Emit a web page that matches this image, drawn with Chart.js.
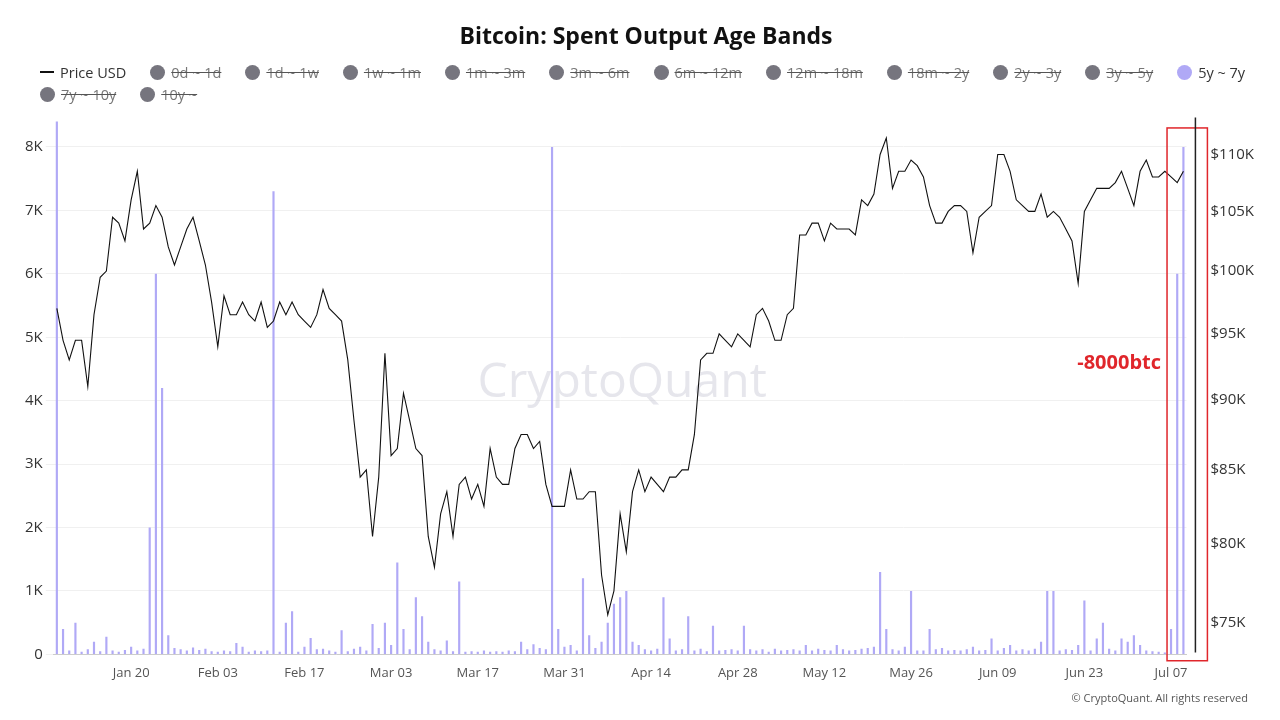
<!DOCTYPE html>
<html>
<head>
<meta charset="utf-8">
<script src="https://cdn.jsdelivr.net/npm/chart.js@4"></script>
<style>
  body { margin: 0; background: #fff; font-family: "Open Sans", sans-serif; }
  #wrap { position: relative; width: 1280px; height: 720px; }
  #copy { position: absolute; right: 32px; top: 690px; font-size: 11px; color: #555; }
  #legend { position: absolute; left: 40px; top: 61px; font-size: 14.5px; color: #333; }
  .row { display: flex; gap: 24px; height: 22px; align-items: center; white-space: nowrap; }
  .item { display: flex; align-items: center; gap: 6px; }
  .dot { width: 15px; height: 15px; border-radius: 50%; }
  .dash { width: 14px; height: 1.5px; background: #111; }
  .off { color: #777; text-decoration: line-through; text-decoration-color: #555; }
</style>
</head>
<body>
<div id="wrap">
  <canvas id="bandChart" width="1280" height="720"></canvas>
  <div id="legend"></div>
  <div id="copy">© CryptoQuant. All rights reserved</div>
</div>
<script>
// daily values, Jan 08 -> Jul 09 2025
const priceJan = [97.0,94.5,93.0,94.5,94.5,91.0,96.5,99.5,100.0,104.5,104.0,102.5,106.0,108.5,103.5,104.0,105.5,104.5,102.0,100.5,102.0,103.5,104.5,102.5];
const priceFeb = [100.5,97.5,94.0,98.0,96.5,96.5,97.5,96.5,96.0,97.5,95.5,96.0,97.5,96.5,97.5,96.5,96.0,95.5,96.5,98.5,97.0,96.5,96.0,93.0,88.5,84.5,85.0,80.5];
const priceMar = [84.5,93.5,86.0,86.5,90.5,88.5,86.5,86.0,80.5,78.5,82.0,83.5,80.5,84.0,84.5,83.0,84.0,82.5,86.5,84.5,84.0,84.0,86.5,87.5,87.5,86.5,87.0,84.0,82.5,82.5,82.5];
const priceApr = [85.0,83.0,83.0,83.5,83.5,78.0,75.5,77.0,82.0,79.5,83.5,85.0,83.5,84.5,84.0,83.5,84.5,84.5,85.0,85.0,87.5,93.0,93.5,93.5,95.0,94.5,94.0,95.0,94.5,94.0];
const priceMay = [96.5,97.0,96.0,94.5,94.5,96.5,97.0,103.0,103.0,104.0,104.0,102.5,104.0,103.5,103.5,103.5,103.0,106.0,105.5,106.5,110.0,111.5,107.0,108.5,108.5,109.5,109.0,108.0,105.5,104.0,104.0];
const priceJun = [105.0,105.5,105.5,105.0,101.5,104.5,105.0,105.5,110.0,110.0,108.5,106.0,105.5,105.0,105.0,106.5,104.5,105.0,104.5,103.5,102.5,99.0,105.0,106.0,107.0,107.0,107.0,107.5,108.5,107.0];
const priceJul = [105.5,108.5,109.5,108.0,108.0,108.5,108.0,107.5,108.5];

const band5y7yJan = [9000,400,60,500,40,80,200,50,280,60,40,70,120,60,90,2000,6000,4200,300,100,80,60,110,70];
const band5y7yFeb = [90,50,40,60,50,180,120,40,60,50,60,7300,40,500,680,40,120,260,80,90,60,40,380,50,90,120,60,480];
const band5y7yMar = [100,500,150,1450,400,80,900,600,200,80,60,220,50,1150,40,50,40,60,40,50,40,60,50,200,80,160,100,80,8000,400,120];
const band5y7yApr = [150,60,1200,300,100,200,500,800,900,1000,200,150,80,60,90,900,250,60,80,600,60,90,50,450,60,70,80,60,450,80];
const band5y7yMay = [60,80,40,90,60,70,80,60,150,60,90,70,60,150,80,60,70,90,100,120,1300,400,80,60,120,1000,60,60,400,80,100];
const band5y7yJun = [60,70,60,80,120,60,70,250,60,100,150,60,80,60,90,200,1000,1000,60,80,70,150,850,60,250,500,90,60,250,200];
const band5y7yJul = [300,150,60,50,40,30,400,6000,8000];

const hiddenBands = ["0d ~ 1d","1d ~ 1w","1w ~ 1m","1m ~ 3m","3m ~ 6m","6m ~ 12m","12m ~ 18m","18m ~ 2y","2y ~ 3y","3y ~ 5y"];
const hiddenBandsAfter = ["7y ~ 10y","10y ~"];
const priceTicks = [75000,80000,85000,90000,95000,100000,105000,110000];

const priceUsd = [].concat(priceJan,priceFeb,priceMar,priceApr,priceMay,priceJun,priceJul).map(v => v * 1000);
const band5y7y = [].concat(band5y7yJan,band5y7yFeb,band5y7yMar,band5y7yApr,band5y7yMay,band5y7yJun,band5y7yJul);

// build date labels
const months = ["Jan","Feb","Mar","Apr","May","Jun","Jul"];
const labels = [];
const start = new Date(2025, 0, 8);
for (let i = 0; i < priceUsd.length; i++) {
  const d = new Date(start.getTime() + i * 86400000);
  labels.push(months[d.getMonth()] + " " + String(d.getDate()).padStart(2, "0"));
}

const grey = "#76757e";
const purple = "#b0a9f6";
const datasets = [
  { type: "line", label: "Price USD", data: priceUsd, yAxisID: "y1", borderColor: "#111", borderWidth: 1.1,
    pointRadius: 0, tension: 0, order: 0 }
];
hiddenBands.forEach(b => datasets.push({ type: "bar", label: b, data: [], hidden: true, backgroundColor: grey, yAxisID: "y", order: 1 }));
datasets.push({ type: "bar", label: "5y ~ 7y", data: band5y7y, yAxisID: "y", backgroundColor: purple,
  barPercentage: 0.35, categoryPercentage: 1, order: 1 });
hiddenBandsAfter.forEach(b => datasets.push({ type: "bar", label: b, data: [], hidden: true, backgroundColor: grey, yAxisID: "y", order: 1 }));

// html legend, two rows like the source
const legendEl = document.querySelector("#legend");
function legendItem(ds) {
  const mark = ds.type === "line" ? '<span class="dash"></span>'
    : '<span class="dot" style="background:' + ds.backgroundColor + '"></span>';
  return '<span class="item">' + mark + '<span class="' + (ds.hidden ? "off" : "") + '">' + ds.label + '</span></span>';
}
const firstRow = datasets.filter(ds => !hiddenBandsAfter.includes(ds.label));
const secondRow = datasets.filter(ds => hiddenBandsAfter.includes(ds.label));
legendEl.innerHTML = '<div class="row">' + firstRow.map(legendItem).join("") + '</div>' +
  '<div class="row">' + secondRow.map(legendItem).join("") + '</div>';

// red box, note and black marker line near the end
const markPlugin = {
  id: "mark",
  afterDatasetsDraw(chart) {
    const { ctx, scales, chartArea } = chart;
    const x1 = scales.x.getPixelForValue(labels.length - 3);
    const x2 = scales.x.getPixelForValue(labels.length - 1);
    ctx.save();
    ctx.strokeStyle = "#e0262b";
    ctx.lineWidth = 1.5;
    ctx.strokeRect(x1 - 4, scales.y.getPixelForValue(8300), x2 - x1 + 28, scales.y.getPixelForValue(-100) - scales.y.getPixelForValue(8300));
    ctx.strokeStyle = "#222";
    ctx.beginPath();
    ctx.moveTo(x2 + 12, chartArea.top - 4);
    ctx.lineTo(x2 + 12, chartArea.bottom - 2);
    ctx.stroke();
    ctx.fillStyle = "#e0262b";
    ctx.font = "bold 20px 'Open Sans'";
    ctx.textAlign = "right";
    ctx.fillText("-8000btc", x1 - 10, scales.y.getPixelForValue(4500));
    ctx.restore();
  },
  beforeDatasetsDraw(chart) {
    const { ctx, chartArea } = chart;
    ctx.save();
    ctx.fillStyle = "rgba(200,200,212,0.45)";
    ctx.font = "48px 'Open Sans'";
    ctx.textAlign = "center";
    ctx.textBaseline = "middle";
    ctx.fillText("CryptoQuant", (chartArea.left + chartArea.right) / 2 + 2, 383);
    ctx.restore();
  }
};

new Chart(document.querySelector("#bandChart"), {
  data: { labels: labels, datasets: datasets },
  plugins: [markPlugin],
  options: {
    responsive: false,
    animation: false,
    layout: { padding: { left: 22, right: 10, top: 10, bottom: 36 } },
    plugins: {
      title: { display: true, text: "Bitcoin: Spent Output Age Bands", color: "#111",
        font: { family: "Open Sans", size: 23, weight: "bold" }, padding: { top: 14, bottom: 70 } },
      legend: { display: false },
      tooltip: { enabled: false }
    },
    scales: {
      x: {
        grid: { display: false, drawTicks: true },
        border: { color: "#ccc" },
        ticks: {
          autoSkip: false, maxRotation: 0, color: "#555", font: { family: "Open Sans", size: 13 },
          callback: (v, i) => (i >= 12 && (i - 12) % 14 === 0) ? labels[i] : null
        }
      },
      y: {
        position: "left", min: 0, max: 8400,
        afterBuildTicks: s => { s.ticks = [0,1000,2000,3000,4000,5000,6000,7000,8000].map(v => ({ value: v })); },
        grid: { color: "#f0f0f0" }, border: { display: false },
        ticks: { color: "#333", font: { family: "Open Sans", size: 15 }, callback: v => v === 0 ? "0" : (v / 1000) + "K" }
      },
      y1: {
        type: "logarithmic", position: "right", min: 73100, max: 113000,
        afterBuildTicks: s => { s.ticks = priceTicks.map(v => ({ value: v })); },
        grid: { display: false }, border: { display: false },
        ticks: { color: "#333", padding: 16, font: { family: "Open Sans", size: 15 }, callback: v => "$" + (v / 1000) + "K" }
      }
    }
  }
});
</script>
</body>
</html>
